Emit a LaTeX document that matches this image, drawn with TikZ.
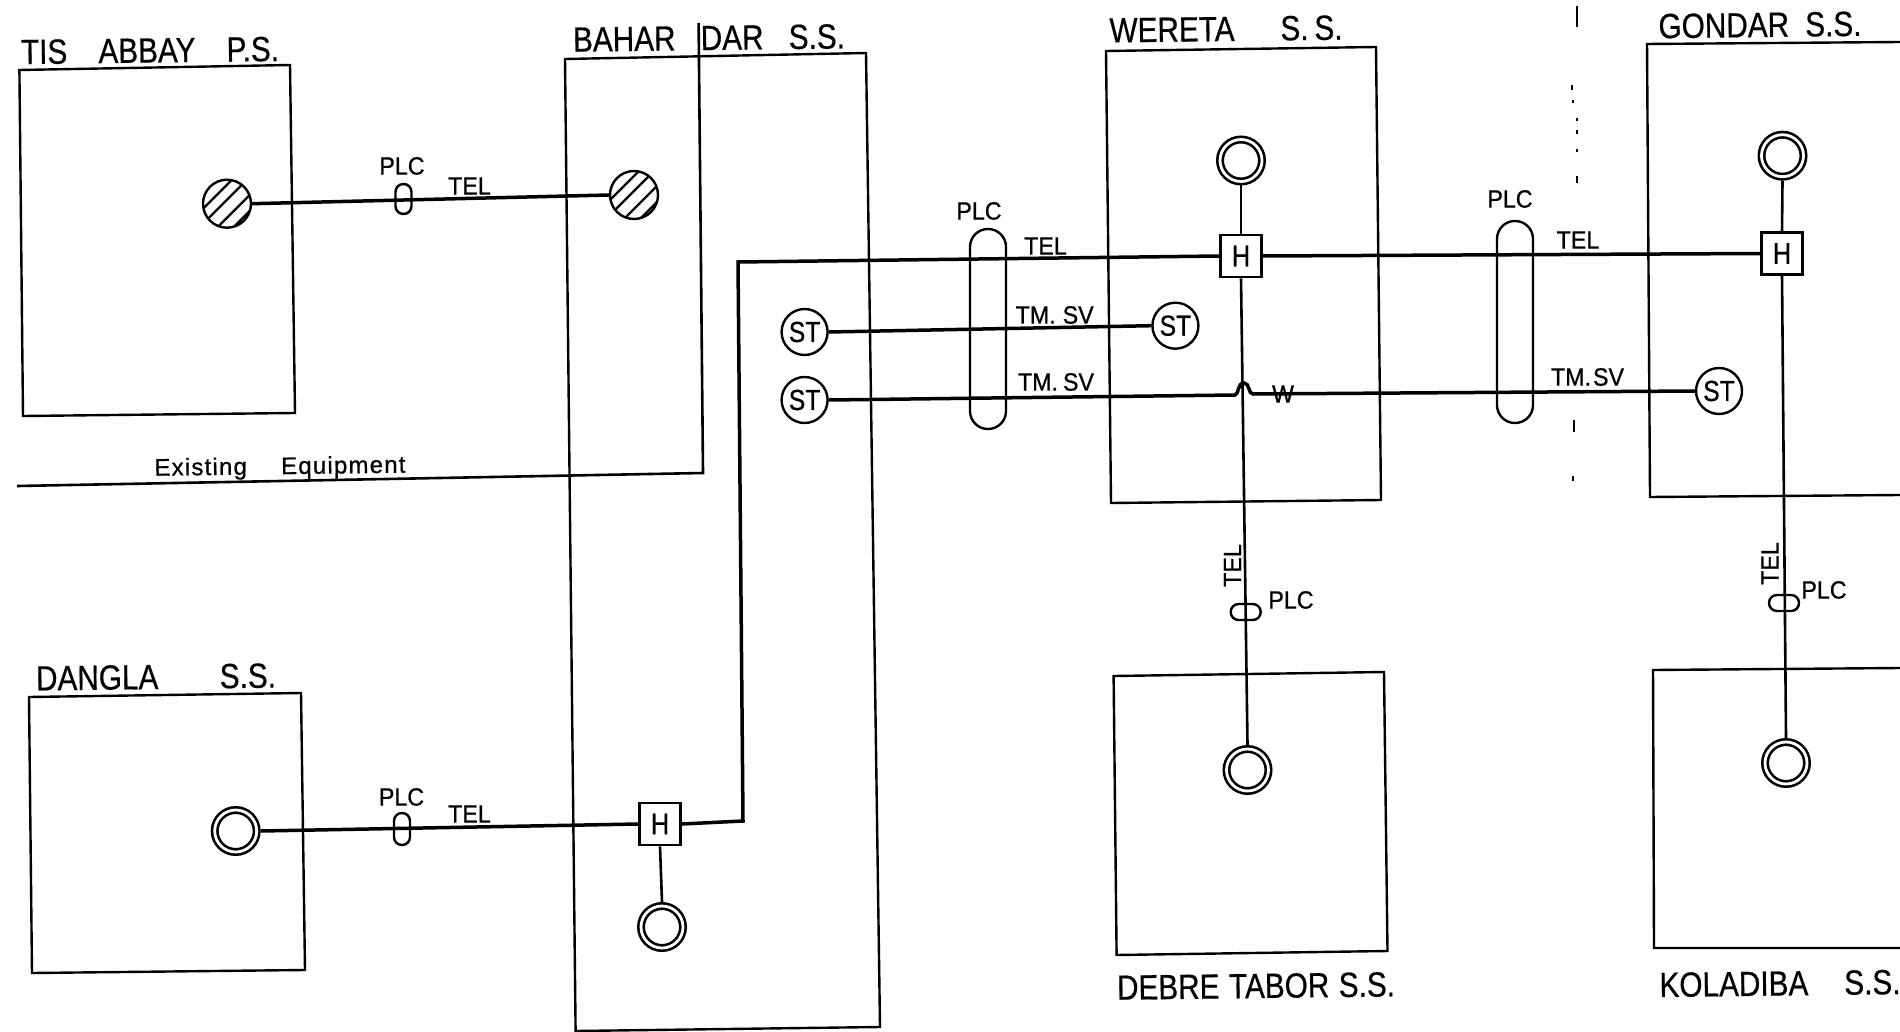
\documentclass[tikz,border=0pt]{standalone}
\usepackage{fontspec}
\setmainfont[FakeStretch=0.85,FakeBold=0.5]{Liberation Sans}
\newfontfamily\smallfam[FakeStretch=0.93,FakeBold=0.7]{Liberation Sans}
\newfontfamily\eqfam[LetterSpace=5,FakeBold=0.7]{Liberation Sans}
\newcommand{\wide}[2]{\makebox[#1pt][s]{#2}}
\tikzset{
  box/.style={draw=black,line width=2.4pt,line join=miter},
  wire/.style={draw=black,line width=3.5pt},
  thinwire/.style={draw=black,line width=2.6pt},
  title/.style={inner sep=0pt,font=\fontsize{35}{35}\selectfont,rotate=0.7},
  small/.style={inner sep=0pt,font=\smallfam\fontsize{25}{25}\selectfont},
  dbl/.style={circle,draw=black,line width=2.6pt,double,double distance=2.8pt,minimum size=42pt,inner sep=0pt,outer sep=3.9pt},
  hatched/.style={circle,draw=black,line width=2.4pt,minimum size=48pt,inner sep=0pt,outer sep=1.2pt,
    path picture={
      \foreach \d in {-19,-4,14,30}{
        \draw[line width=2.2pt] ([shift={(\d-30,30)}]path picture bounding box.center) -- ([shift={(\d+30,-30)}]path picture bounding box.center);
      }}},
  stn/.style={circle,draw=black,line width=2.4pt,minimum size=46pt,inner sep=0pt,outer sep=1.2pt,font=\fontsize{29}{29}\selectfont},
  hbox/.style={rectangle,draw=black,line width=2.6pt,minimum width=41pt,minimum height=42pt,inner sep=0pt,outer sep=1.3pt,font=\fontsize{30}{30}\selectfont},
  plc/.style={draw=black,line width=2.4pt,rectangle,inner sep=0pt},
  fold/.style={draw=black,line width=1.2pt}
}
\begin{document}
\begin{tikzpicture}[x=1pt,y=-1pt]
\useasboundingbox (0,0) rectangle (1900,1032);
\clip (0,0) rectangle (1900,1032);
\fill[white] (0,0) rectangle (1900,1032);

% station outlines
\draw[box] (19.4,70) -- (290,65) -- (295,413) -- (23,416) -- cycle;
\draw[box] (565,59) -- (866,53) -- (880,1027) -- (575.6,1031) -- cycle;
\draw[box] (1106,51) -- (1376,47) -- (1381,500) -- (1111,503) -- cycle;
\draw[box] (1900,42) -- (1647,44) -- (1650,497) -- (1900,495);
\draw[box] (29,697) -- (301,693) -- (305,970) -- (32,973) -- cycle;
\draw[box] (1113.6,676) -- (1384,672) -- (1387.5,951) -- (1116.6,955) -- cycle;
\draw[box] (1900,668) -- (1653,670) -- (1654,948) -- (1900,948);

% station titles
\node[title] (tTis) at (150,50.5) {\wide{258}{TIS\hfill ABBAY\hfill P.S.}};
\node[title] (tBah) at (709,38) {\wide{272}{BAHAR\hfill DAR\hfill S.S.}};
\node[title] (tWer) at (1226,29) {\wide{233}{WERETA\hfill S.\,S.}};
\node[title] (tGon) at (1760,25) {\wide{203}{GONDAR\hfill S.S.}};
\node[title] (tDan) at (156,677) {\wide{240}{DANGLA\hfill S.S.}};
\node[title] (tDeb) at (1256,986) {\wide{278}{DEBRE\hfill TABOR\hfill S.S.}};
\node[title] (tKol) at (1780,983.5) {\wide{241}{KOLADIBA\hfill S.S.}};

% equipment
\node[hatched] (hTis) at (227,203.7) {};
\node[hatched] (hBah) at (634,195) {};
\node[dbl] (cDan) at (235.7,831) {};
\node[dbl] (cBah) at (662,927) {};
\node[dbl] (cWer) at (1241,160.5) {};
\node[dbl] (cGon) at (1782.5,155.7) {};
\node[dbl] (cDeb) at (1247.5,770) {};
\node[dbl] (cKol) at (1786,763) {};
\node[hbox] (HBah) at (660,824) {\raisebox{-3pt}{H}};
\node[hbox] (HWer) at (1241,256) {\raisebox{-3pt}{H}};
\node[hbox] (HGon) at (1782,253.5) {\raisebox{-3pt}{H}};
\node[stn] (s1) at (804.6,332) {ST};
\node[stn] (s2) at (804.6,400) {ST};
\node[stn] (s3) at (1175.4,325.7) {ST};
\node[stn] (s4) at (1719,391) {ST};

% connectors
\draw[wire] (hTis.east) -- (hBah.west);
\draw[wire] (cDan.east) -- (HBah.west);
\coordinate (b1) at (743,821);
\coordinate (b2) at (738,262);
\draw[wire,line join=miter] (HBah.east) -- (b1) -- (b2) -- (HWer.west);
\draw[wire] (HWer.east) -- (HGon.west);
\draw[wire] (s1.east) -- (s3.west);
\coordinate (j1) at (1235,395);
\coordinate (j2) at (1253,394);
\draw[wire] (s2.east) -- (j1) .. controls (1239,395) and (1237,383) .. (1244,383) .. controls (1250,383) and (1248,394) .. (j2) -- (s4.west);
\draw[thinwire] (cWer.south) -- (HWer.north);
\draw[thinwire] (cGon.south) -- (HGon.north);
\draw[thinwire] (HBah.south) -- (cBah.north);
\draw[thinwire] (HWer.south) -- (cDeb.north);
\draw[thinwire] (HGon.south) -- (cKol.north);

% existing equipment line
\coordinate (e0) at (698.6,23);
\coordinate (e1) at (703,473);
\coordinate (e2) at (17,486);
\draw[thinwire,line join=miter] (e0) -- (e1) -- (e2);
\node[inner sep=0pt,font=\eqfam\fontsize{24}{24}\selectfont,rotate=0.7] (lEx) at (280,468) {\wide{251}{Existing\hfill Equipment}};

% PLC couplers
\node[plc,minimum width=16pt,minimum height=30pt,rounded corners=7.9pt] (p1) at (403.5,199) {};
\node[plc,minimum width=16pt,minimum height=32pt,rounded corners=7.9pt] (p2) at (402,829) {};
\node[plc,minimum width=36pt,minimum height=200pt,rounded corners=17.9pt] (p3) at (988,329) {};
\node[plc,minimum width=36pt,minimum height=202pt,rounded corners=17.9pt] (p4) at (1515,322) {};
\node[plc,minimum width=30pt,minimum height=16pt,rounded corners=7.9pt] (p5) at (1245.7,612) {};
\node[plc,minimum width=30pt,minimum height=16pt,rounded corners=7.9pt] (p6) at (1784,603) {};

% small labels
\node[small] (l1) at (402,166) {PLC};
\node[small] (l2) at (469.5,186) {TEL};
\node[small] (l3) at (401.5,797) {PLC};
\node[small] (l4) at (469.5,814) {TEL};
\node[small] (l5) at (979,211) {PLC};
\node[small] (l6) at (1045.5,246) {TEL};
\node[small] (l7) at (1054.7,315) {\wide{78}{TM.\hfill SV}};
\node[small] (l8) at (1056,382) {\wide{76}{TM.\hfill SV}};
\node[small] (l9) at (1283,394) {W};
\node[small] (l10) at (1510,199) {PLC};
\node[small] (l11) at (1578,240) {TEL};
\node[small] (l12) at (1587.5,377) {\wide{73}{TM.\hfill SV}};
\node[small,rotate=90] (l13) at (1232.5,565.5) {TEL};
\node[small] (l14) at (1291,600) {PLC};
\node[small,rotate=90] (l15) at (1770,563.5) {TEL};
\node[small] (l16) at (1824,590) {PLC};

% fold marks of the scanned sheet
\draw[fold] (1577,6) -- (1577,27);
\draw[fold] (1572,85) -- (1572,90);
\draw[fold] (1573,100) -- (1573,103);
\draw[fold] (1577,118) -- (1577,121);
\draw[fold] (1577,130) -- (1577,134);
\draw[fold] (1577,149) -- (1577,152);
\draw[fold] (1577,176) -- (1577,183);
\draw[fold] (1574,420) -- (1574,432);
\draw[fold] (1573,476) -- (1573,481);
\end{tikzpicture}
\end{document}
